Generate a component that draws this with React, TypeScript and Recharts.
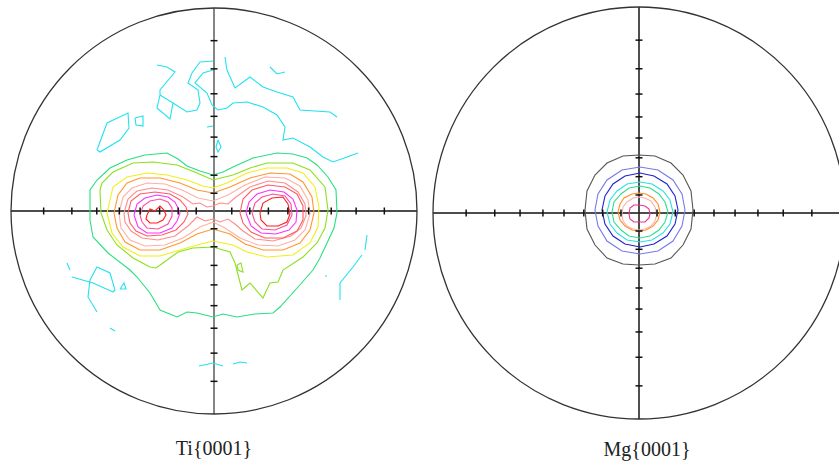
import { ScatterChart, Scatter, XAxis, YAxis, ReferenceLine, ReferenceDot } from 'recharts';

type Pt = [number, number];

// stereographic positions of the 10..80 degree graticule marks, as a fraction of the radius
const TICK_FRACTIONS = [0.0875, 0.1763, 0.2679, 0.364, 0.4663, 0.5774, 0.7002, 0.8391];

// ---- Ti{0001}: contour lines, units from the pole, projection radius 203 ----
const TI_CYAN_A1: Pt[] = [[-57, 146], [-47, 144], [-39, 139], [-44, 133], [-54, 121], [-54, 116]];
const TI_CYAN_A2: Pt[] = [[-54, 116], [-41, 108], [-44, 92], [-57, 103], [-54, 116]];
const TI_CYAN_A3: Pt[] = [[-41, 108], [-27, 99], [-17, 101], [-14, 108], [-16, 121], [-26, 128], [-22, 138], [-14, 149], [-1, 150]];
const TI_CYAN_A4: Pt[] = [
  [-1, 141], [-11, 138], [-19, 128], [-7, 118], [-2, 106], [4, 101], [13, 103], [19, 108], [33, 109], [49, 104],
  [63, 96], [71, 84], [69, 71], [79, 73], [96, 64], [109, 54], [119, 49], [133, 54], [144, 58],
];
const TI_CYAN_B: Pt[] = [[11, 154], [13, 141], [21, 123], [36, 134], [49, 124], [63, 119], [79, 114], [86, 101], [116, 99], [123, 94]];
const TI_CYAN_C: Pt[] = [[56, 144], [63, 137], [71, 139]];
const TI_CYAN_D: Pt[] = [[-117, 61], [-107, 88], [-86, 98], [-85, 83], [-94, 71], [-114, 59], [-117, 61]];
const TI_CYAN_E: Pt[] = [[-79, 93], [-71, 95], [-71, 85], [-78, 86], [-79, 93]];
const TI_CYAN_F: Pt[] = [[-7, 84], [-1, 85]];
const TI_CYAN_G: Pt[] = [[4, 71], [7, 64], [4, 59], [2, 64], [4, 71]];
const TI_CYAN_I: Pt[] = [[-147, -52], [-144, -59]];
const TI_CYAN_J1: Pt[] = [[-142, -66], [-121, -72], [-101, -81]];
const TI_CYAN_J2: Pt[] = [[-117, -101], [-126, -86], [-124, -69], [-117, -56], [-104, -62], [-99, -79], [-101, -81]];
const TI_CYAN_J3: Pt[] = [[-94, -78], [-90, -72], [-88, -78], [-94, -78]];
const TI_CYAN_K: Pt[] = [[-104, -117], [-99, -120]];
const TI_CYAN_L1: Pt[] = [[153, -24], [151, -39]];
const TI_CYAN_L2: Pt[] = [[148, -44], [139, -56], [126, -72], [126, -89]];
const TI_CYAN_L3: Pt[] = [[111, -65], [113, -65]];
const TI_CYAN_M1: Pt[] = [[-15, -155], [-1, -152], [9, -155]];
const TI_CYAN_M2: Pt[] = [[19, -153], [26, -151], [33, -152]];

const TI_GREEN: Pt[] = [
  [-69, 56], [-47, 58], [-36, 52], [-27, 45], [-14, 40], [-1, 36], [9, 39], [19, 44], [39, 53], [63, 58],
  [79, 57], [93, 53], [103, 46], [114, 34], [122, 21], [123, -2], [120, -17], [113, -32], [106, -47], [99, -59],
  [84, -76], [66, -96], [59, -102], [41, -103], [23, -106], [9, -103], [-1, -106], [-17, -102], [-27, -101],
  [-37, -106], [-54, -99], [-64, -82], [-77, -66], [-84, -59], [-106, -42], [-121, -26], [-124, -9], [-124, 21],
  [-117, 31], [-104, 43], [-87, 51],
];
const TI_LIME: Pt[] = [
  [-114, 21], [-113, -2], [-107, -19], [-97, -34], [-81, -47], [-64, -56], [-58, -57], [-51, -52], [-36, -41],
  [-21, -37], [-1, -36], [16, -41], [21, -52], [28, -79], [36, -72], [49, -87], [56, -72], [64, -71], [69, -59],
  [89, -46], [103, -32], [111, -17], [114, 1], [111, 24], [96, 41], [79, 48], [53, 48], [36, 43], [19, 36],
  [-1, 31], [-17, 38], [-37, 46], [-61, 49], [-81, 48], [-101, 39], [-112, 28],
];
const TI_LIME_SPOT: Pt[] = [[23, -54], [27, -52], [29, -61], [24, -59]];
const TI_YELLOW: Pt[] = [
  [-107, -2], [-101, 24], [-87, 34], [-67, 38], [-47, 36], [-27, 31], [-11, 25], [-1, 23], [13, 28], [33, 38],
  [53, 43], [73, 43], [89, 38], [101, 24], [105, 4], [104, -16], [96, -32], [79, -44], [53, -46], [33, -41],
  [19, -34], [-1, -30], [-17, -34], [-34, -39], [-54, -45], [-74, -45], [-91, -36], [-102, -22],
];
const TI_ORANGE: Pt[] = [
  [-100, -2], [-96, 16], [-87, 28], [-74, 33], [-54, 33], [-34, 28], [-17, 21], [-1, 18], [16, 24], [36, 33],
  [56, 38], [76, 37], [89, 29], [98, 14], [100, -2], [96, -19], [86, -32], [69, -39], [49, -39], [31, -33],
  [16, -23], [-1, -18], [-17, -23], [-34, -32], [-54, -39], [-74, -39], [-89, -31], [-97, -17],
];
const TI_LIGHTPINK: Pt[] = [
  [-95, -2], [-91, 14], [-82, 23], [-67, 28], [-49, 27], [-32, 21], [-16, 13], [-1, 10], [14, 16], [31, 26],
  [51, 34], [71, 33], [86, 25], [94, 11], [96, -3], [91, -19], [81, -29], [64, -35], [44, -34], [26, -27],
  [11, -17], [-1, -11], [-14, -16], [-31, -27], [-49, -34], [-69, -35], [-84, -29], [-93, -17],
];
const TI_SALMON: Pt[] = [
  [-90, -2], [-86, 12], [-77, 20], [-62, 23], [-46, 21], [-31, 14], [-21, 7], [-14, 8], [-7, 4], [-1, 5],
  [6, 8], [14, 7], [22, 14], [36, 24], [54, 30], [71, 28], [84, 19], [91, 7], [92, -5], [87, -17], [77, -25],
  [59, -30], [41, -28], [29, -20], [21, -13], [14, -8], [6, -11], [-1, -8], [-9, -10], [-17, -6], [-26, -15],
  [-39, -25], [-56, -29], [-72, -27], [-83, -20], [-89, -11],
];
const TI_ROSE_L: Pt[] = [[-86, -2], [-83, 10], [-74, 17], [-59, 19], [-44, 17], [-34, 11], [-28, 4], [-26, -3], [-30, -11], [-38, -19], [-52, -24], [-67, -25], [-78, -20], [-84, -12]];
const TI_ROSE_R: Pt[] = [[26, -2], [29, 12], [38, 21], [54, 26], [71, 24], [83, 17], [89, 5], [89, -9], [83, -20], [69, -27], [51, -27], [37, -21], [29, -12]];
const TI_MAGENTA_L: Pt[] = [[-80, -4], [-77, 7], [-69, 13], [-57, 16], [-46, 14], [-39, 9], [-36, 3], [-34, -2], [-37, -10], [-42, -17], [-54, -22], [-67, -22], [-76, -16]];
const TI_MAGENTA_R: Pt[] = [[32, -2], [35, 9], [43, 17], [56, 21], [70, 19], [79, 12], [83, 1], [82, -11], [75, -19], [62, -23], [47, -22], [37, -15]];
const TI_PURPLE_L: Pt[] = [[-74, -4], [-71, 5], [-64, 10], [-54, 12], [-46, 9], [-42, 3], [-42, -5], [-46, -13], [-56, -18], [-67, -17], [-72, -11]];
const TI_PURPLE_R: Pt[] = [[38, -2], [41, 8], [48, 14], [59, 17], [71, 15], [77, 7], [78, -4], [73, -14], [61, -19], [48, -18], [41, -11]];
const TI_RED_L: Pt[] = [[-67, -4], [-64, 2], [-59, 0], [-54, 5], [-50, 1], [-48, -4], [-51, -9], [-57, -12], [-64, -12], [-68, -8]];
const TI_RED_R: Pt[] = [[46, -2], [49, 8], [58, 13], [69, 14], [74, 7], [76, -3], [73, -11], [64, -15], [53, -15], [47, -9]];

// ---- Mg{0001}: contour lines, units from the pole, projection radius 206 ----
const MG_GRAY: Pt[] = [[54, 3], [52, 22], [44, 38], [32, 50], [16, 57], [0, 58], [-16, 57], [-32, 50], [-44, 38], [-52, 22], [-54, 3], [-52, -16], [-44, -32], [-32, -45], [-16, -51], [0, -52], [16, -51], [32, -45], [44, -32], [52, -16]];
const MG_LIGHTBLUE: Pt[] = [[46, 3], [43, 19], [34, 33], [19, 43], [1, 46], [-17, 43], [-32, 33], [-41, 19], [-44, 3], [-41, -13], [-32, -28], [-17, -38], [1, -41], [19, -38], [34, -28], [43, -13]];
const MG_BLUE: Pt[] = [[39, 3], [36, 17], [28, 29], [15, 37], [1, 40], [-14, 37], [-26, 29], [-34, 17], [-37, 3], [-34, -11], [-26, -23], [-14, -31], [1, -34], [15, -31], [28, -23], [36, -11]];
const MG_CYAN: Pt[] = [[34, 1], [31, 13], [24, 22], [13, 29], [1, 31], [-12, 29], [-22, 22], [-29, 13], [-32, 1], [-29, -11], [-22, -20], [-12, -27], [1, -29], [13, -27], [24, -20], [31, -11]];
const MG_GREEN: Pt[] = [[29, 1], [26, 11], [20, 19], [11, 25], [1, 27], [-10, 25], [-18, 19], [-25, 11], [-27, 1], [-25, -9], [-18, -17], [-10, -23], [1, -25], [11, -23], [20, -17], [26, -9]];
const MG_ORANGE: Pt[] = [[21, 1], [19, 9], [14, 15], [7, 19], [0, 20], [-7, 19], [-15, 15], [-19, 9], [-21, 1], [-19, -7], [-14, -13], [-7, -17], [0, -18], [7, -17], [14, -13], [19, -7]];
const MG_PINK: Pt[] = [[18, -1], [16, 6], [12, 12], [6, 15], [0, 16], [-6, 15], [-12, 11], [-16, 6], [-17, -1], [-16, -8], [-12, -13], [-6, -16], [0, -17], [6, -16], [12, -13], [16, -8]];
const MG_MAGENTA: Pt[] = [[11, -1], [10, 4], [6, 7], [0, 8], [-5, 8], [-9, 5], [-10, -1], [-9, -6], [-5, -9], [0, -9], [6, -9], [10, -5]];

const CYAN = '#22e2f0';

interface Contour {
  color: string;
  pts: Pt[];
  closed?: boolean;
}

const TI_CONTOURS: Contour[] = [
  ...[TI_CYAN_A1, TI_CYAN_A2, TI_CYAN_A3, TI_CYAN_A4, TI_CYAN_B, TI_CYAN_C, TI_CYAN_D, TI_CYAN_E, TI_CYAN_F,
    TI_CYAN_G, TI_CYAN_I, TI_CYAN_J1, TI_CYAN_J2, TI_CYAN_J3, TI_CYAN_K, TI_CYAN_L1, TI_CYAN_L2, TI_CYAN_L3,
    TI_CYAN_M1, TI_CYAN_M2].map((pts) => ({ color: CYAN, pts })),
  { color: '#2adf80', pts: TI_GREEN, closed: true },
  { color: '#8ce01e', pts: TI_LIME, closed: true },
  { color: '#8ce01e', pts: TI_LIME_SPOT, closed: true },
  { color: '#f2ee1c', pts: TI_YELLOW, closed: true },
  { color: '#ff9630', pts: TI_ORANGE, closed: true },
  { color: '#ffb0a4', pts: TI_LIGHTPINK, closed: true },
  { color: '#ff8c8c', pts: TI_SALMON, closed: true },
  { color: '#ff5c64', pts: TI_ROSE_L, closed: true },
  { color: '#ff5c64', pts: TI_ROSE_R, closed: true },
  { color: '#ff30ff', pts: TI_MAGENTA_L, closed: true },
  { color: '#ff30ff', pts: TI_MAGENTA_R, closed: true },
  { color: '#ff4c9c', pts: TI_PURPLE_L, closed: true },
  { color: '#ff4c9c', pts: TI_PURPLE_R, closed: true },
  { color: '#ff1e1e', pts: TI_RED_L, closed: true },
  { color: '#ff1e1e', pts: TI_RED_R, closed: true },
];

const MG_CONTOURS: Contour[] = [
  { color: '#555555', pts: MG_GRAY, closed: true },
  { color: '#7878e8', pts: MG_LIGHTBLUE, closed: true },
  { color: '#2020d0', pts: MG_BLUE, closed: true },
  { color: '#30e0e0', pts: MG_CYAN, closed: true },
  { color: '#30dd90', pts: MG_GREEN, closed: true },
  { color: '#ff9020', pts: MG_ORANGE, closed: true },
  { color: '#ffb0b0', pts: MG_PINK, closed: true },
  { color: '#ee3388', pts: MG_MAGENTA, closed: true },
];

const noDot = () => <g />;

const HTick = (props: any) => (
  <line x1={props.cx} x2={props.cx} y1={props.cy - 3.5} y2={props.cy + 3.5} stroke="#111" strokeWidth={1.5} />
);
const VTick = (props: any) => (
  <line x1={props.cx - 3.5} x2={props.cx + 3.5} y1={props.cy} y2={props.cy} stroke="#111" strokeWidth={1.5} />
);

interface PoleFigureProps {
  radius: number;
  contours: Contour[];
  vAxisColor: string;
}

function PoleFigure({ radius, contours, vAxisColor }: PoleFigureProps) {
  const ticks = TICK_FRACTIONS.map((f) => f * radius);
  const hTicks = ticks.flatMap((t) => [{ x: t, y: 0 }, { x: -t, y: 0 }]);
  const vTicks = ticks.flatMap((t) => [{ x: 0, y: t }, { x: 0, y: -t }]);
  const size = radius * 2 + 8;

  return (
    <ScatterChart width={size} height={size} margin={{ top: 4, right: 4, bottom: 4, left: 4 }}>
      <XAxis type="number" dataKey="x" domain={[-radius, radius]} allowDataOverflow hide />
      <YAxis type="number" dataKey="y" domain={[-radius, radius]} allowDataOverflow hide />
      <ReferenceDot x={0} y={0} r={radius} fill="none" stroke="#333" strokeWidth={1.3} ifOverflow="visible" />
      {contours.map((c, i) => {
        const pts = c.closed ? [...c.pts, c.pts[0]] : c.pts;
        return (
          <Scatter
            key={i}
            data={pts.map(([x, y]) => ({ x, y }))}
            fill={c.color}
            line={{ stroke: c.color, strokeWidth: 1.1 }}
            shape={noDot}
            legendType="none"
            isAnimationActive={false}
          />
        );
      })}
      <ReferenceLine y={0} stroke="#111" strokeWidth={1.6} />
      <ReferenceLine x={0} stroke={vAxisColor} strokeWidth={1.6} />
      <Scatter data={hTicks} shape={HTick} legendType="none" isAnimationActive={false} />
      <Scatter data={vTicks} shape={VTick} legendType="none" isAnimationActive={false} />
    </ScatterChart>
  );
}

const labelStyle = {
  position: 'absolute' as const,
  width: 120,
  textAlign: 'center' as const,
  fontFamily: '"Liberation Serif", "Times New Roman", serif',
  fontSize: 20,
  lineHeight: '20px',
  color: '#222',
};

export default function App() {
  return (
    <div style={{ position: 'absolute', left: 0, top: 0, width: 839, height: 466, overflow: 'hidden', background: '#fff' }}>
      <div style={{ position: 'absolute', left: 7, top: 4 }}>
        <PoleFigure radius={203} contours={TI_CONTOURS} vAxisColor="#666" />
      </div>
      <div style={{ position: 'absolute', left: 429, top: 3 }}>
        <PoleFigure radius={206} contours={MG_CONTOURS} vAxisColor="#222" />
      </div>
      <div style={{ ...labelStyle, left: 154, top: 438 }}>Ti{'{0001}'}</div>
      <div style={{ ...labelStyle, left: 587, top: 439 }}>Mg{'{0001}'}</div>
    </div>
  );
}
